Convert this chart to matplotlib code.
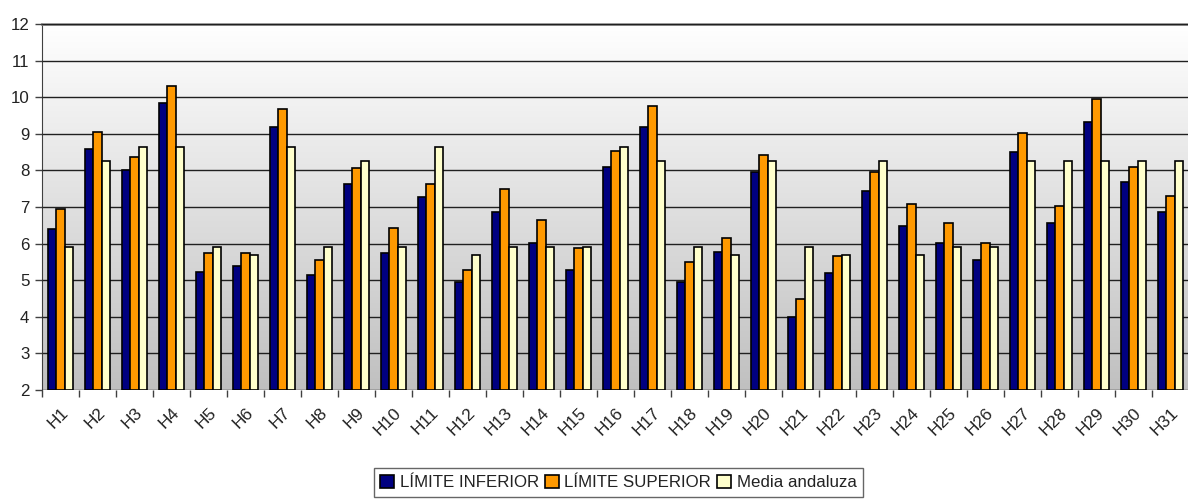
import matplotlib.pyplot as plt
import numpy as np

# datos
categorias = ['H%d' % i for i in range(1, 32)]

limite_inferior = [6.39, 8.59, 8.00, 9.83, 5.23, 5.38, 9.19, 5.15, 7.64, 5.74,
                   7.26, 4.95, 6.85, 6.02, 5.27, 8.09, 9.19, 4.95, 5.78, 7.95,
                   4.00, 5.19, 7.45, 6.49, 6.02, 5.56, 8.51, 6.57, 9.33, 7.67,
                   6.85]
limite_superior = [6.94, 9.05, 8.37, 10.31, 5.74, 5.74, 9.67, 5.55, 8.07, 6.43,
                   7.64, 5.27, 7.49, 6.65, 5.88, 8.54, 9.75, 5.51, 6.14, 8.42,
                   4.49, 5.65, 7.95, 7.08, 6.57, 6.02, 9.02, 7.04, 9.95, 8.08,
                   7.30]
media_andaluza = [5.92, 8.27, 8.65, 8.65, 5.92, 5.69, 8.65, 5.92, 8.27, 5.92,
                  8.65, 5.69, 5.92, 5.92, 5.92, 8.65, 8.27, 5.92, 5.69, 8.27,
                  5.92, 5.69, 8.27, 5.69, 5.92, 5.92, 8.27, 8.27, 8.27, 8.27,
                  8.27]

plt.rcParams['font.family'] = ['Liberation Sans', 'DejaVu Sans']
plt.rcParams['text.color'] = '#222222'

fig = plt.figure(figsize=(11.88, 4.99), dpi=100)
ax = fig.add_axes([42 / 1188, 109 / 499, 1147 / 1188, 366 / 499])

x = np.arange(len(categorias))
w = 0.23
ymin, ymax = 2, 12

# fondo degradado blanco -> gris
grad = np.linspace(1, 0, 256).reshape(-1, 1)
ax.imshow(grad, cmap=plt.matplotlib.colors.LinearSegmentedColormap.from_list(
    'g', ['#c0c0c0', '#ffffff']), aspect='auto',
    extent=[-0.5, len(categorias) - 0.5, ymin, ymax], zorder=0, origin='upper')

ax.bar(x - w, [v - ymin for v in limite_inferior], w, bottom=ymin,
       color='#000080', edgecolor='black', linewidth=1.2, zorder=3, label='LÍMITE INFERIOR')
ax.bar(x, [v - ymin for v in limite_superior], w, bottom=ymin,
       color='#ff9900', edgecolor='black', linewidth=1.2, zorder=3, label='LÍMITE SUPERIOR')
ax.bar(x + w, [v - ymin for v in media_andaluza], w, bottom=ymin,
       color='#ffffcc', edgecolor='black', linewidth=1.2, zorder=3, label='Media andaluza')

ax.set_xlim(-0.5, len(categorias) - 0.5)
ax.set_ylim(ymin, ymax)
ax.set_yticks(range(2, 13))
ax.tick_params(axis='y', labelsize=12.2, length=5, width=1, color='#404040',
               labelcolor='#222222', pad=4)
ax.yaxis.grid(True, color='#202020', linewidth=1)
ax.set_axisbelow(False)
for gl in ax.get_ygridlines():
    gl.set_zorder(1)

ax.set_xticks(x)
ax.set_xticklabels(categorias, rotation=45, ha='right', rotation_mode='anchor',
                   fontsize=12.4, color='#222222')
ax.tick_params(axis='x', length=0, pad=11)
ax.set_xticks(np.arange(-0.5, len(categorias) + 0.5, 1), minor=True)
ax.tick_params(axis='x', which='minor', length=5, width=1, color='#404040')

for s in ['right', 'bottom']:
    ax.spines[s].set_visible(False)
ax.spines['left'].set_color('#404040')
ax.spines['top'].set_color('#909090')
ax.spines['top'].set_linewidth(2)

leg = fig.legend(loc='upper center', bbox_to_anchor=(0.5206, 31 / 499), ncol=3,
                 fontsize=12.2, frameon=True, fancybox=False, edgecolor='#404040',
                 handlelength=0.8, handleheight=0.8, handletextpad=0.35,
                 columnspacing=0.35, borderpad=0.4, borderaxespad=0)
leg.get_frame().set_linewidth(1)

fig.savefig('out.png', dpi=100)
